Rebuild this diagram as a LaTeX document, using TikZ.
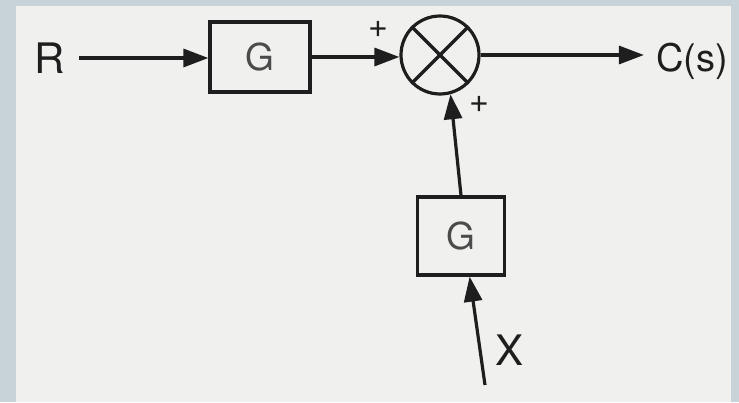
\documentclass[tikz,border=0pt]{standalone}
\usepackage{fontspec}
\setmainfont{TeX Gyre Heros}
\usetikzlibrary{arrows.meta,calc}
\definecolor{frame}{HTML}{C8D2D9}
\definecolor{paper}{HTML}{F0F0EE}
\definecolor{ink}{HTML}{1E1E1E}
\begin{document}
\begin{tikzpicture}[x=1pt,y=-1pt,
  blk/.style={draw=ink, line width=3.2pt, fill=paper, minimum width=100pt, minimum height=70pt, inner sep=0pt, font=\fontsize{37}{37}\selectfont, text=ink!80},
  sig/.style={draw=ink, line width=3.2pt, -{Triangle[length=25pt,width=18pt]}},
  lbl/.style={text=ink, font=\fontsize{42}{42}\selectfont, inner sep=0pt},
  pls/.style={text=ink, font=\fontsize{34}{34}\selectfont, inner sep=0pt}
]
\fill[frame] (0,0) rectangle (739,402);
\fill[paper] (16,6) rectangle (731,402);
\useasboundingbox (0,0) rectangle (739,402);
\node[lbl] (R) at (50,58) {R};
\node[blk] (G1) at (260,57) {G};
\node[draw=ink, line width=3.2pt, circle, minimum size=78pt, inner sep=0pt] (S) at (440,55) {};
\draw[ink, line width=3.2pt] (S.45) -- (S.225) (S.135) -- (S.315);
\node[lbl, font=\fontsize{38}{38}\selectfont] (C) at (692,61) {C(s)};
\node[blk, minimum width=87pt, minimum height=78pt] (G2) at (461,236) {G};
\coordinate (xin) at (485,385);
\node[lbl] (X) at (510,350) {X};
\node[pls] (p1) at (378,29) {+};
\node[pls] (p2) at (479,104) {+};
\draw[sig, shorten <=14pt] (R.east) -- (R.east -| G1.west);
\draw[sig] (G1.east) -- (G1.east -| S.west);
\draw[sig, shorten >=12pt] (S.east) -- (S.east -| C.west);
\draw[sig] (G2.north) -- (S.-75);
\draw[sig] (xin) -- (G2.-78);
\end{tikzpicture}
\end{document}
